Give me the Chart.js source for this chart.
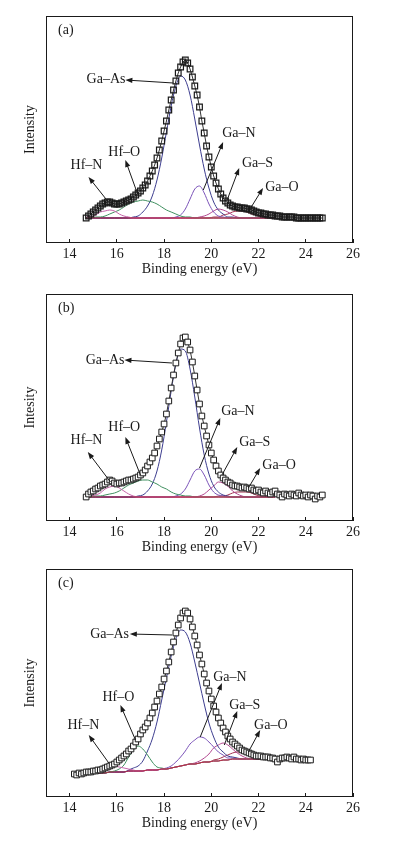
<!DOCTYPE html>
<html>
<head>
<meta charset="utf-8">
<script src="https://cdn.jsdelivr.net/npm/chart.js@4.4.1/dist/chart.umd.min.js"></script>
<style>
  body { margin: 0; background: #fff; }
  canvas { position: absolute; left: 0; }
</style>
</head>
<body>
<canvas id="chartA" width="394" height="285" style="top:0px"></canvas>
<canvas id="chartB" width="394" height="285" style="top:278px"></canvas>
<canvas id="chartC" width="394" height="288" style="top:553px"></canvas>
<script>
// x axis ticks
var xTicks = [14, 16, 18, 20, 22, 24, 26];

// measured spectra, binding energy (eV) and intensity (arb. units)
var eAB = [14.7,14.8,14.9,15.0,15.1,15.2,15.3,15.4,15.5,15.6,
  15.7,15.8,15.9,16.0,16.1,16.2,16.3,16.4,16.5,16.6,
  16.7,16.8,16.9,17.0,17.1,17.2,17.3,17.4,17.5,17.6,
  17.7,17.8,17.9,18.0,18.1,18.2,18.3,18.4,18.5,18.6,
  18.7,18.8,18.9,19.0,19.1,19.2,19.3,19.4,19.5,19.6,
  19.7,19.8,19.9,20.0,20.1,20.2,20.3,20.4,20.5,20.6,
  20.7,20.8,20.9,21.0,21.1,21.2,21.3,21.4,21.5,21.6,
  21.7,21.8,21.9,22.0,22.1,22.2,22.3,22.4,22.5,22.6,
  22.7,22.8,22.9,23.0,23.1,23.2,23.3,23.4,23.5,23.6,
  23.7,23.8,23.9,24.0,24.1,24.2,24.3,24.4,24.5,24.6,24.7];
var eC = [14.2,14.3,14.4,14.5,14.6,14.7,14.8,14.9,15.0,15.1,
  15.2,15.3,15.4,15.5,15.6,15.7,15.8,15.9,16.0,16.1,
  16.2,16.3,16.4,16.5,16.6,16.7,16.8,16.9,17.0,17.1,
  17.2,17.3,17.4,17.5,17.6,17.7,17.8,17.9,18.0,18.1,
  18.2,18.3,18.4,18.5,18.6,18.7,18.8,18.9,19.0,19.1,
  19.2,19.3,19.4,19.5,19.6,19.7,19.8,19.9,20.0,20.1,
  20.2,20.3,20.4,20.5,20.6,20.7,20.8,20.9,21.0,21.1,
  21.2,21.3,21.4,21.5,21.6,21.7,21.8,21.9,22.0,22.1,
  22.2,22.3,22.4,22.5,22.6,22.7,22.8,22.9,23.0,23.1,
  23.2,23.3,23.4,23.5,23.6,23.7,23.8,23.9,24.0,24.1,24.2];

var countsA = [25,27,29,31,33,35,37,39,40,41,
  41,40,39,39,39,40,41,42,43,44,
  46,48,50,52,55,58,62,67,72,78,
  85,93,102,112,122,133,143,153,162,170,
  176,181,183,180,174,166,157,148,136,122,
  110,97,86,76,67,60,54,49,45,42,
  40,38,37,36,36,35,35,35,34,34,
  33,32,31,30,30,29,29,28,28,28,
  27,27,27,26,26,26,26,26,26,25,
  25,25,25,25,25,25,25,25,25,25,25];
var countsB = [24,27,29,30,32,33,35,36,37,39,
  41,40,38,37,38,38,39,40,41,41,
  42,43,44,46,48,51,55,59,63,68,
  75,82,89,97,107,120,133,146,158,168,
  177,183,184,179,171,159,145,131,117,105,
  95,85,76,68,61,55,50,46,43,41,
  39,38,36,35,35,34,33,34,33,32,
  33,31,30,31,29,28,30,28,27,29,
  30,27,26,24,27,26,25,27,26,25,
  28,26,25,26,24,26,25,22,25,24,26];
var countsC = [23,22,24,23,24,25,25,25,26,26,
  27,27,28,29,30,31,32,33,35,37,
  39,41,43,46,48,51,55,58,63,67,
  70,74,79,84,90,96,103,110,118,126,
  135,145,155,164,172,179,184,186,184,178,
  170,161,152,142,133,123,114,106,98,91,
  85,79,74,69,65,61,58,55,53,51,
  49,47,46,45,44,43,42,41,41,41,
  40,40,40,39,39,38,35,38,39,39,
  40,39,38,40,38,38,37,38,37,37,37];

// fitted components, sampled every 0.2 eV
var gAB = [14.7,14.9,15.1,15.3,15.5,15.7,15.9,16.1,16.3,16.5,
  16.7,16.9,17.1,17.3,17.5,17.7,17.9,18.1,18.3,18.5,
  18.7,18.9,19.1,19.3,19.5,19.7,19.9,20.1,20.3,20.5,
  20.7,20.9,21.1,21.3,21.5,21.7,21.9,22.1,22.3,22.5,22.7];
var gC = [14.3,14.5,14.7,14.9,15.1,15.3,15.5,15.7,15.9,16.1,
  16.3,16.5,16.7,16.9,17.1,17.3,17.5,17.7,17.9,18.1,
  18.3,18.5,18.7,18.9,19.1,19.3,19.5,19.7,19.9,20.1,
  20.3,20.5,20.7,20.9,21.1,21.3,21.5,21.7,21.9,22.1];

var bgEA = [14.7, 22.7];
var bgA = [25, 25];
var hfNA = [26,26,28,31,32,33,32,29,27,26, 25,25,25,25,25,25,25,25,25,25, 25,25,25,25,25,25,25,25,25,25, 25,25,25,25,25,25,25,25,25,25, 25];
var hfOA = [25,25,26,26,27,29,31,33,36,39, 41,42,43,42,41,39,36,33,31,29, 27,26,26,25,25,25,25,25,25,25, 25,25,25,25,25,25,25,25,25,25, 25];
var gaAsA = [25,25,25,25,25,25,25,25,25,25, 26,27,31,37,47,63,85,111,137,157, 167,163,148,124,98,74,55,41,33,29, 26,26,25,25,25,25,25,25,25,25, 25];
var gaNA = [25,25,25,25,25,25,25,25,25,25, 25,25,25,25,25,25,25,25,25,26, 28,34,44,54,57,50,39,31,27,26, 25,25,25,25,25,25,25,25,25,25, 25];
var gaSA = [25,25,25,25,25,25,25,25,25,25, 25,25,25,25,25,25,25,25,25,25, 25,25,25,25,26,27,29,32,34,33, 31,28,26,25,25,25,25,25,25,25, 25];
var gaOA = [25,25,25,25,25,25,25,25,25,25, 25,25,25,25,25,25,25,25,25,25, 25,25,25,25,25,25,25,26,26,28, 29,31,32,32,31,29,28,26,26,25, 25];

var bgEB = [14.7, 22.7];
var bgB = [24, 24];
var hfNB = [24,25,26,28,32,34,35,33,30,27, 25,24,24,24,24,24,24,24,24,24, 24,24,24,24,24,24,24,24,24,24, 24,24,24,24,24,24,24,24,24,24, 24];
var hfOB = [24,24,25,25,26,27,28,30,33,36, 38,40,41,41,39,37,34,32,29,27, 26,25,25,24,24,24,24,24,24,24, 24,24,24,24,24,24,24,24,24,24, 24];
var gaAsB = [24,24,24,24,24,24,24,24,24,24, 24,25,26,30,37,50,71,99,130,157, 172,170,152,124,93,66,47,35,29,26, 25,24,24,24,24,24,24,24,24,24, 24];
var gaNB = [24,24,24,24,24,24,24,24,24,24, 24,24,24,24,24,24,24,24,24,25, 27,32,41,50,52,46,36,29,26,25, 24,24,24,24,24,24,24,24,24,24, 24];
var gaSB = [24,24,24,24,24,24,24,24,24,24, 24,24,24,24,24,24,24,24,24,24, 24,24,24,24,25,27,31,35,39,38, 35,30,27,25,24,24,24,24,24,24, 24];
var gaOB = [24,24,24,24,24,24,24,24,24,24, 24,24,24,24,24,24,24,24,24,24, 24,24,24,24,24,24,24,24,25,25, 26,28,29,29,29,28,26,25,25,24, 24];

var bgC = [23,23,23,24,24,24,24,25,25,25, 25,26,26,26,26,27,27,27,28,28, 29,30,31,32,33,33,34,35,35,36, 36,37,37,38,38,38,38,38,38,38];
var hfNC = [23,23,23,24,25,26,28,30,31,30, 29,28,27,26,26,27,27,27,28,28, 29,30,31,32,33,33,34,35,35,36, 36,37,37,38,38,38,38,38,38,38];
var hfOC = [23,23,23,24,24,24,24,25,26,28, 32,40,47,51,48,42,35,30,29,28, 29,30,31,32,33,33,34,35,35,36, 36,37,37,38,38,38,38,38,38,38];
var gaAsC = [23,23,23,24,24,24,24,25,25,25, 25,27,29,31,36,46,58,75,97,119, 141,158,167,165,154,135,114,93,74,60, 50,45,41,40,39,38,38,38,38,38];
var gaNC = [23,23,23,24,24,24,24,25,25,25, 25,26,26,26,26,27,27,27,28,29, 31,35,40,46,53,57,60,59,55,50, 45,42,39,39,38,38,38,38,38,38];
var gaSC = [23,23,23,24,24,24,24,25,25,25, 25,26,26,26,26,27,27,27,28,28, 29,30,31,32,33,34,36,39,43,49, 52,54,52,48,44,41,39,38,38,38];
var gaOC = [23,23,23,24,24,24,24,25,25,25, 25,26,26,26,26,27,27,27,28,28, 29,30,31,32,33,33,34,35,35,37, 38,40,42,44,45,45,44,42,40,39];

// peak labels: text anchor, arrow tail (on curve), arrow head (near text)
var notesA = [
  {text: 'Ga\u2013As', at: [14.72, 164], from: [18.39, 160], to: [16.36, 163]},
  {text: 'Hf\u2013N', at: [14.04, 78], from: [15.64, 41], to: [14.8, 66]},
  {text: 'Hf\u2013O', at: [15.64, 91], from: [16.91, 47], to: [16.36, 83]},
  {text: 'Ga\u2013N', at: [20.46, 110], from: [19.66, 53], to: [20.5, 101]},
  {text: 'Ga\u2013S', at: [21.3, 80], from: [20.67, 43], to: [21.18, 75]},
  {text: 'Ga\u2013O', at: [22.28, 56], from: [21.64, 34], to: [22.19, 55]}
];
var notesB = [
  {text: 'Ga\u2013As', at: [14.68, 161], from: [18.34, 158], to: [16.32, 161]},
  {text: 'Hf\u2013N', at: [14.04, 81], from: [15.73, 39], to: [14.77, 69]},
  {text: 'Hf\u2013O', at: [15.64, 94], from: [17.0, 46], to: [16.36, 84]},
  {text: 'Ga\u2013N', at: [20.42, 110], from: [19.5, 53], to: [20.38, 103]},
  {text: 'Ga\u2013S', at: [21.18, 79], from: [20.45, 46], to: [21.1, 74]},
  {text: 'Ga\u2013O', at: [22.16, 56], from: [21.57, 33], to: [22.07, 53]}
];
var notesC = [
  {text: 'Ga\u2013As', at: [14.87, 163], from: [18.34, 162], to: [16.55, 163]},
  {text: 'Hf\u2013N', at: [13.91, 72], from: [15.66, 34], to: [14.81, 62]},
  {text: 'Hf\u2013O', at: [15.39, 100], from: [16.79, 57], to: [16.15, 92]},
  {text: 'Ga\u2013N', at: [20.08, 120], from: [19.53, 60], to: [20.45, 114]},
  {text: 'Ga\u2013S', at: [20.76, 92], from: [20.55, 52], to: [21.1, 86]},
  {text: 'Ga\u2013O', at: [21.81, 72], from: [21.57, 45], to: [22.07, 67]}
];

var ink = '#1a1a1a';
var serif = "'Liberation Serif', 'Times New Roman', serif";
var col = {
  bg: '#b32b3c', hfN: '#c462a8', hfO: '#3f8f5f', gaAs: '#3d3d8f',
  gaN: '#7a52b8', gaS: '#b2478f', gaO: '#a3324f'
};

function xy(xs, ys) {
  return ys.map(function (v, i) { return {x: xs[i], y: v}; });
}

function curve(xs, ys, colour) {
  return {
    data: xy(xs, ys),
    borderColor: colour,
    borderWidth: 1,
    pointRadius: 0,
    fill: false,
    cubicInterpolationMode: 'monotone'
  };
}

function notesPlugin(tag, items) {
  return {
    id: 'notes',
    afterDatasetsDraw: function (chart) {
      var ctx = chart.ctx, a = chart.chartArea;
      var x = chart.scales.x, y = chart.scales.y;
      ctx.save();
      ctx.strokeStyle = ink;
      ctx.fillStyle = ink;
      ctx.lineWidth = 1;
      ctx.strokeRect(a.left + 0.5, a.top + 0.5, a.right - a.left - 1, a.bottom - a.top - 1);
      ctx.font = '14px ' + serif;
      ctx.textBaseline = 'middle';
      ctx.textAlign = 'left';
      ctx.fillText(tag, a.left + 12, a.top + 14);
      items.forEach(function (n) {
        var x0 = x.getPixelForValue(n.from[0]), y0 = y.getPixelForValue(n.from[1]);
        var x1 = x.getPixelForValue(n.to[0]), y1 = y.getPixelForValue(n.to[1]);
        var ang = Math.atan2(y1 - y0, x1 - x0);
        var c = Math.cos(ang), s = Math.sin(ang);
        ctx.beginPath();
        ctx.moveTo(x0, y0);
        ctx.lineTo(x1 - 4 * c, y1 - 4 * s);
        ctx.stroke();
        ctx.beginPath();
        ctx.moveTo(x1, y1);
        ctx.lineTo(x1 - 7 * c + 2.6 * s, y1 - 7 * s - 2.6 * c);
        ctx.lineTo(x1 - 7 * c - 2.6 * s, y1 - 7 * s + 2.6 * c);
        ctx.closePath();
        ctx.fill();
        ctx.fillText(n.text, x.getPixelForValue(n.at[0]), y.getPixelForValue(n.at[1]));
      });
      ctx.restore();
    }
  };
}

function makePanel(id, p) {
  var datasets = [
    {
      data: xy(p.e, p.counts),
      showLine: true,
      borderColor: '#333',
      borderWidth: 1,
      pointStyle: 'rect',
      pointRadius: 4,
      pointBorderWidth: p.edge,
      pointBorderColor: ink,
      pointBackgroundColor: p.fill
    },
    curve(p.bgE, p.bg, col.bg),
    curve(p.g, p.hfN, col.hfN),
    curve(p.g, p.hfO, col.hfO),
    curve(p.g, p.gaAs, col.gaAs),
    curve(p.g, p.gaN, col.gaN),
    curve(p.g, p.gaS, col.gaS),
    curve(p.g, p.gaO, col.gaO)
  ];

  new Chart(document.getElementById(id), {
    type: 'line',
    data: {datasets: datasets},
    options: {
      responsive: false,
      animation: false,
      devicePixelRatio: 1,
      layout: {padding: {left: 14, right: 41, top: 16, bottom: p.padBottom}},
      plugins: {legend: {display: false}, tooltip: {enabled: false}},
      scales: {
        x: {
          type: 'linear',
          min: 13,
          max: 26,
          afterBuildTicks: function (s) {
            s.ticks = xTicks.map(function (v) { return {value: v}; });
          },
          afterFit: function (s) { s.height = 40; },
          grid: {drawOnChartArea: false, tickLength: -4, color: ink, lineWidth: 1},
          border: {display: false},
          ticks: {padding: 7, color: ink, font: {family: serif, size: 14}},
          title: {
            display: true, text: 'Binding energy (eV)', color: ink,
            font: {family: serif, size: 14}, padding: {top: 0, bottom: 5}
          }
        },
        y: {
          min: 0,
          max: p.yMax,
          afterFit: function (s) { s.width = 32; },
          grid: {display: false},
          border: {display: false},
          ticks: {display: false},
          title: {
            display: true, text: p.yTitle, color: ink,
            font: {family: serif, size: 14}, padding: {top: 7.6, bottom: 0}
          }
        }
      }
    },
    plugins: [notesPlugin(p.tag, p.notes)]
  });
}

makePanel('chartA', {
  tag: '(a)', yTitle: 'Intensity', yMax: 227, padBottom: 2,
  fill: 'rgba(255,255,255,0)', edge: 1.2,
  e: eAB, counts: countsA, g: gAB, bgE: bgEA, bg: bgA,
  hfN: hfNA, hfO: hfOA, gaAs: gaAsA, gaN: gaNA, gaS: gaSA, gaO: gaOA, notes: notesA
});
makePanel('chartB', {
  tag: '(b)', yTitle: 'Intesity', yMax: 227, padBottom: 2,
  fill: '#fff', edge: 1,
  e: eAB, counts: countsB, g: gAB, bgE: bgEB, bg: bgB,
  hfN: hfNB, hfO: hfOB, gaAs: gaAsB, gaN: gaNB, gaS: gaSB, gaO: gaOB, notes: notesB
});
makePanel('chartC', {
  tag: '(c)', yTitle: 'Intensity', yMax: 228, padBottom: 4,
  fill: '#fff', edge: 1,
  e: eC, counts: countsC, g: gC, bgE: gC, bg: bgC,
  hfN: hfNC, hfO: hfOC, gaAs: gaAsC, gaN: gaNC, gaS: gaSC, gaO: gaOC, notes: notesC
});
</script>
</body>
</html>
